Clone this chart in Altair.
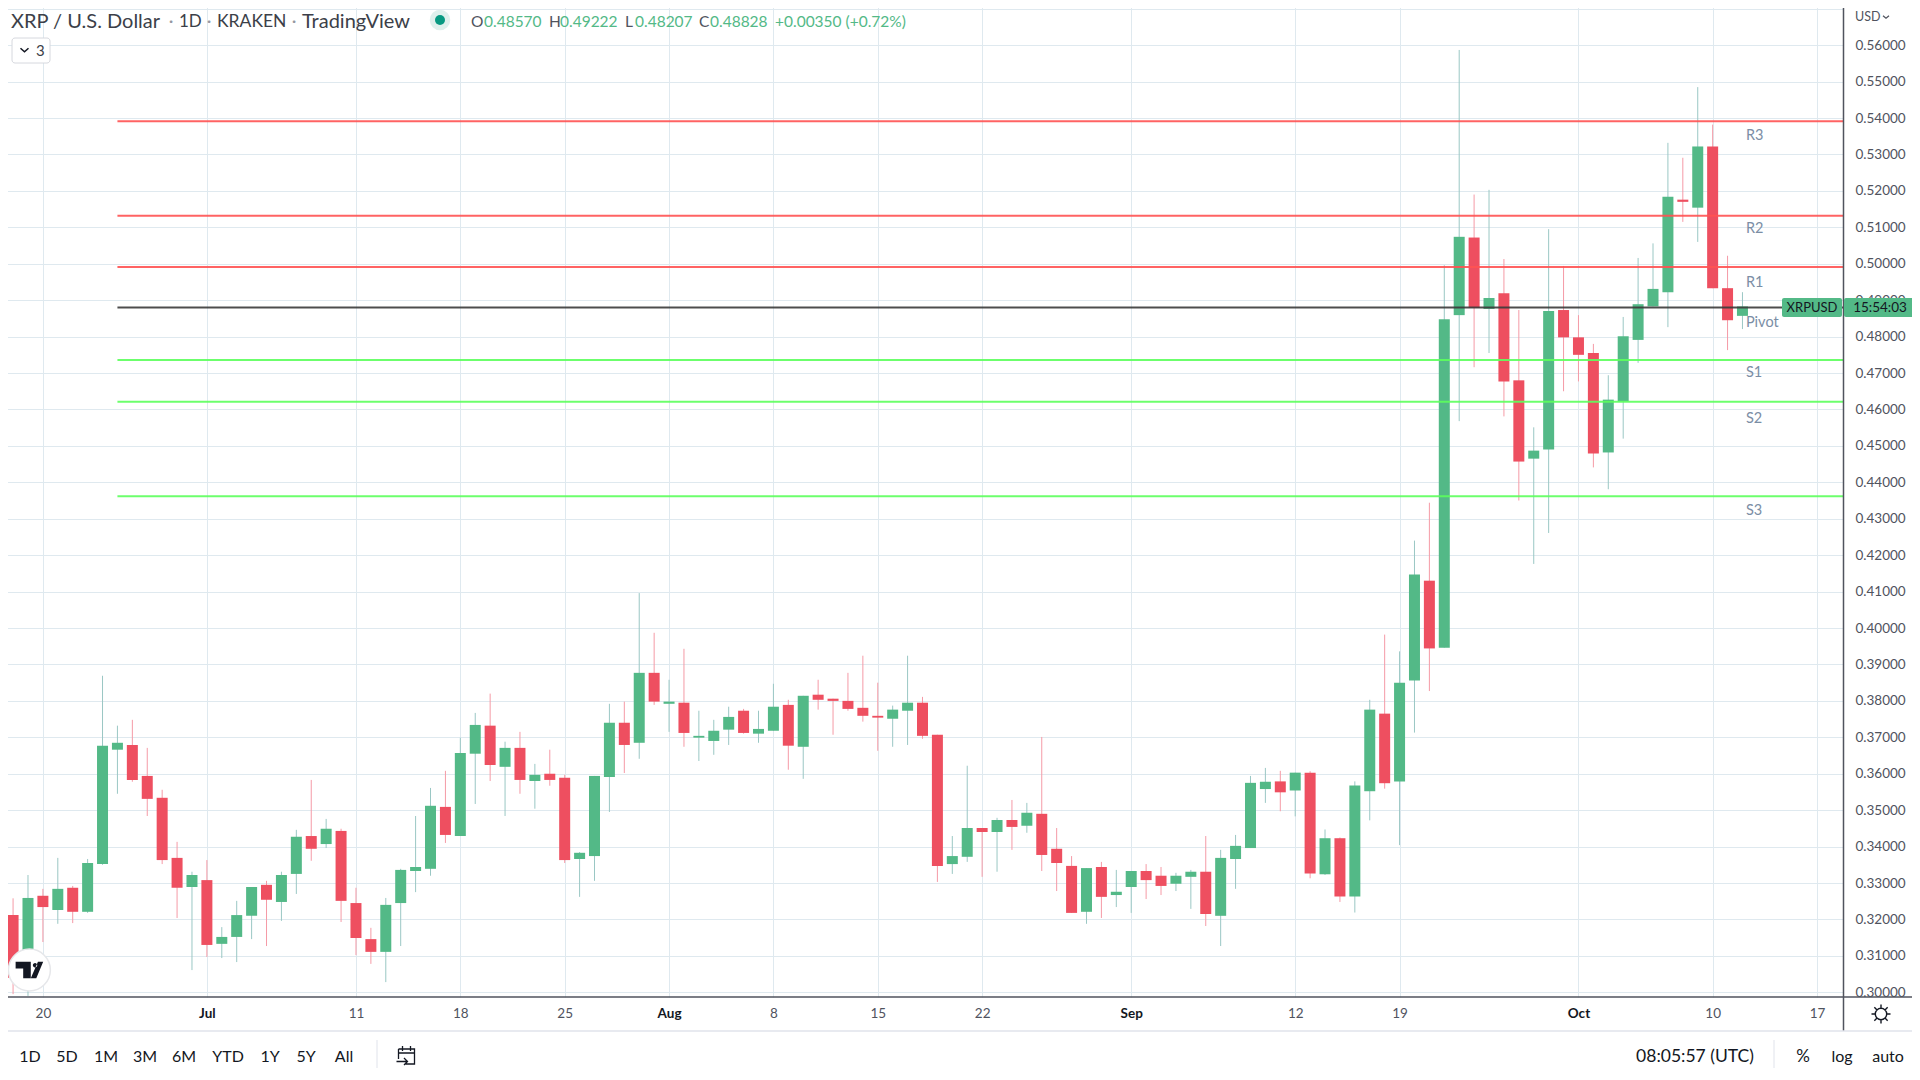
import altair as alt
import pandas as pd

FONT = "Lato"
UP, DOWN = "#53b987", "#ee4f60"
UP_WICK, DOWN_WICK = "#9ac7c4", "#f59aa6"
GRID = "#dfe9ef"
TEXT = "#131722"
AXIS_TEXT = "#50535e"
LABEL = "#7b8ea5"

opens = [.3111, .3212, .3040, .3265, .3226, .3287, .3221, .3352, .3666, .3679, .3594, .3534, .3369, .3289,
         .3308, .3133, .3152, .3210, .3295, .3248, .3325, .3429, .3407, .3443, .3245, .3146, .3111, .3245, .3333,
         .3339, .3509, .3429, .3655, .3732, .3619, .3671, .3580, .3600, .3589, .3366, .3374, .3591, .3740, .3685, .3877,
         .3792, .3795, .3699, .3690, .3721, .3773, .3710, .3718, .3789, .3674, .3817, .3806, .3800, .3781, .3759,
         .3751, .3773, .3795, .3707, .3352, .3372, .3451, .3440, .3473, .3457, .3490, .3394, .3347, .3221, .3344, .3267,
         .3289, .3333, .3320, .3298, .3317, .3331, .3210, .3366, .3396, .3558, .3579, .3554, .3603, .3324, .3423,
         .3263, .3552, .3765, .3579, .3856, .4130, .3946, .4859, .5072, .4876, .4919, .4680, .4465, .4490, .4873,
         .4798, .4755, .4482, .4622, .4791, .4883, .4922, .5176, .5154, .5322, .4933, .4857]
highs = [.3230, .3258, .3322, .3284, .3369, .3292, .3366, .3869, .3732, .3748, .3671, .3556, .3413, .3331,
         .3363, .3179, .3251, .3289, .3306, .3331, .3446, .3583, .3476, .3449, .3287, .3177, .3259, .3339, .3484,
         .3561, .3608, .3699, .3767, .3820, .3688, .3715, .3627, .3666, .3597, .3385, .3594, .3792, .3798, .4096, .3987,
         .3858, .3943, .3773, .3748, .3784, .3778, .3773, .3847, .3803, .3814, .3858, .3806, .3877, .3924, .3850,
         .3787, .3924, .3811, .3707, .3429, .3622, .3451, .3479, .3528, .3520, .3701, .3451, .3374, .3341, .3358, .3336,
         .3333, .3352, .3344, .3328, .3336, .3429, .3391, .3432, .3594, .3616, .3608, .3603, .3607, .3447, .3425,
         .3579, .3803, .3982, .3936, .4240, .4344, .4996, .5587, .5190, .5203, .5013, .4873, .4551, .5095, .4994,
         .4859, .4780, .4694, .4854, .5016, .5056, .5332, .5291, .5485, .5382, .5022, .4922]
lows = [.3090, .2995, .2990, .3138, .3188, .3190, .3218, .3350, .3545, .3578, .3484, .3352, .3204, .3061,
        .3097, .3094, .3083, .3146, .3127, .3196, .3270, .3361, .3396, .3193, .3102, .3078, .3028, .3127, .3275,
        .3320, .3410, .3429, .3517, .3580, .3484, .3545, .3504, .3567, .3355, .3262, .3306, .3495, .3602, .3641, .3789,
        .3715, .3674, .3635, .3652, .3679, .3710, .3685, .3718, .3611, .3586, .3776, .3707, .3773, .3743, .3663,
        .3674, .3679, .3696, .3303, .3325, .3358, .3317, .3331, .3391, .3438, .3333, .3278, .3218, .3188, .3204, .3234,
        .3218, .3256, .3267, .3278, .3229, .3182, .3127, .3284, .3396, .3520, .3497, .3483, .3313, .3322, .3248,
        .3219, .3472, .3559, .3404, .3713, .3827, .3946, .4568, .4716, .4755, .4581, .4350, .4176, .4261, .4650,
        .4677, .4441, .4381, .4520, .4728, .4883, .4826, .5115, .5060, .4933, .4763, .48207]
closes = [.3212, .3040, .3259, .3234, .3284, .3221, .3355, .3677, .3685, .3583, .3531, .3363, .3287, .3322,
          .3130, .3152, .3212, .3289, .3254, .3322, .3427, .3394, .3449, .3251, .3149, .3111, .3240, .3336, .3344,
          .3512, .3432, .3657, .3734, .3624, .3671, .3583, .3597, .3583, .3363, .3383, .3594, .3740, .3679, .3877, .3798,
          .3798, .3712, .3704, .3718, .3756, .3712, .3723, .3784, .3677, .3814, .3803, .3800, .3778, .3759, .3754,
          .3776, .3795, .3704, .3347, .3374, .3451, .3440, .3473, .3454, .3493, .3377, .3355, .3218, .3341, .3262, .3276,
          .3333, .3308, .3292, .3320, .3331, .3215, .3369, .3402, .3575, .3578, .3549, .3603, .3326, .3423, .3263,
          .3568, .3776, .3574, .3850, .4147, .3944, .4848, .5074, .4879, .4906, .4677, .4457, .4487, .4870, .4798,
          .4750, .4479, .4627, .4801, .4889, .4931, .5184, .5170, .5322, .4933, .4845, .48828]

level_names = ["R3", "R2", "R1", "Pivot", "S1", "S2", "S3"]
level_values = [.5391, .5132, .4991, .4880, .4736, .4621, .4362]
level_colors = ["#ff5252", "#ff5252", "#ff5252", "#3a3a3a", "#5cff5c", "#5cff5c", "#5cff5c"]
level_label_values = [.5354, .5099, .4951, .4840, .4702, .4577, .4325]

price_ticks = [round(.30 + i * .01, 2) for i in range(28)]
date_ticks = ["2022-06-20", "2022-07-01", "2022-07-11", "2022-07-18", "2022-07-25", "2022-08-01", "2022-08-08",
              "2022-08-15", "2022-08-22", "2022-09-01", "2022-09-12", "2022-09-19", "2022-10-01", "2022-10-10",
              "2022-10-17"]


def ms(s):
    return int(pd.Timestamp(s, tz="UTC").timestamp() * 1000)


df = pd.DataFrame({"open": opens, "high": highs, "low": lows, "close": closes})
df["date"] = pd.date_range("2022-06-17", periods=len(df), freq="D").strftime("%Y-%m-%dT00:00:00Z")
df["dir"] = ["up" if c >= o else "down" for o, c in zip(df.open, df.close)]

W, H = 1843, 997
x_scale = alt.Scale(type="utc", domain=[ms("2022-06-17T02:57:00"), ms("2022-10-18T17:51:00")], nice=False, padding=0)
y_scale = alt.Scale(domain=[.29871, .57241], nice=False, zero=False)

x_axis = alt.Axis(
    values=[ms(d) for d in date_ticks], grid=True, gridColor=GRID, gridWidth=1, domain=False, ticks=False,
    labelPadding=9, labelFontSize=13.5, labelFont=FONT, labelOverlap=False, labelFlush=False,
    labelExpr="utcdate(datum.value)==1 ? utcFormat(datum.value,'%b') : utcFormat(datum.value,'%-d')",
    labelColor={"condition": {"test": "utcdate(datum.value)==1", "value": TEXT}, "value": AXIS_TEXT},
    labelFontWeight={"condition": {"test": "utcdate(datum.value)==1", "value": "bold"}, "value": "normal"},
)
y_axis = alt.Axis(
    orient="right", values=price_ticks, grid=True, gridColor=GRID, gridWidth=1, domain=False, ticks=False,
    labelPadding=12, labelFontSize=13.5, labelFont=FONT, labelColor=AXIS_TEXT, labelOverlap=False,
    labelExpr="datum.value>0.565 ? '' : format(datum.value,'.5f')",
)


def X(field):
    return alt.X(field, scale=x_scale, axis=x_axis, title=None)


def Y(field):
    return alt.Y(field, scale=y_scale, axis=y_axis, title=None)


wicks = alt.Chart(df).mark_rule(strokeWidth=1).transform_calculate(
    wick=f"datum.dir=='up' ? '{UP_WICK}' : '{DOWN_WICK}'"
).encode(x=X("date:T"), y=Y("high:Q"), y2="low:Q", color=alt.Color("wick:N", legend=None, scale=None))
bodies = alt.Chart(df).mark_bar(size=11).transform_calculate(
    top="max(datum.open,datum.close)", bot="min(datum.open,datum.close)",
    body=f"datum.dir=='up' ? '{UP}' : '{DOWN}'"
).encode(x=X("date:T"), y=Y("top:Q"), y2="bot:Q", color=alt.Color("body:N", legend=None, scale=None))

levels = pd.DataFrame({"name": level_names, "value": level_values, "c": level_colors, "lab": level_label_values})
levels["start"] = "2022-06-25T00:00:00Z"
levels["end"] = "2022-10-18T17:51:00Z"
levels["at"] = "2022-10-12T00:00:00Z"
lines = alt.Chart(levels).mark_rule(strokeWidth=2, opacity=0.9).encode(
    x=X("start:T"), x2="end:T", y=Y("value:Q"), color=alt.Color("c:N", legend=None, scale=None))
level_text = alt.Chart(levels).mark_text(align="left", dx=3.5, dy=1, font=FONT, fontSize=14.5, color=LABEL).encode(
    x=X("at:T"), y=Y("lab:Q"), text="name:N")

one = pd.DataFrame({"a": [0]})


def txt(s, px, py, color=TEXT, size=15, align="left", weight="normal", font=FONT):
    return alt.Chart(one).mark_text(text=s, align=align, baseline="middle", color=color, fontSize=size,
                                    fontWeight=weight, font=font).encode(x=alt.value(px), y=alt.value(py))


def box(x0, x1, y0, y1, fill, **kw):
    return alt.Chart(one).mark_rect(color=fill, **kw).encode(x=alt.value(x0), x2=alt.value(x1), y=alt.value(y0),
                                                             y2=alt.value(y1))


def rule(x0, x1, y0, y1, color, w=1):
    return alt.Chart(one).mark_rule(color=color, strokeWidth=w).encode(x=alt.value(x0), x2=alt.value(x1),
                                                                       y=alt.value(y0), y2=alt.value(y1))


def icon(path, px, py, size, color=TEXT, filled=False, w=1.3):
    return alt.Chart(one).mark_point(shape=path, size=size, filled=filled, color=color, opacity=1,
                                     strokeWidth=w).encode(x=alt.value(px), y=alt.value(py))


HEAD = "#3c3f49"
chrome = [
    # axes frame
    rule(0, 1920, 997, 997, AXIS_TEXT, 1.5),
    rule(1843.5, 1843.5, 0, 1031, AXIS_TEXT, 1.5),
    rule(0, 1920, 1031, 1031, "#e0e3eb", 1.5),
    # level tag
    box(1782, 1842, 298, 317, UP, cornerRadius=2),
    box(1844, 1916, 298, 317, UP, cornerRadius=2),
    txt("XRPUSD", 1812, 308, TEXT, 13, "center"),
    txt("15:54:03", 1880, 308, TEXT, 13.5, "center"),
    txt("USD", 1855, 17, AXIS_TEXT, 12.5),
    icon("M-1,-.4 L0,.4 L1,-.4", 1886, 17, 36, AXIS_TEXT),
    # header
    txt("XRP / U.S. Dollar", 11, 22, HEAD, 20),
    txt("·", 171, 22, "#9598a1", 18, "center"),
    txt("1D", 179, 22, HEAD, 17),
    txt("·", 209, 22, "#9598a1", 18, "center"),
    txt("KRAKEN", 217, 22, HEAD, 17.5),
    txt("·", 294, 22, "#9598a1", 18, "center"),
    txt("TradingView", 302, 22, HEAD, 20),
    alt.Chart(one).mark_point(shape="circle", size=420, filled=True, color="#dff0ec", opacity=1).encode(
        x=alt.value(440), y=alt.value(20)),
    alt.Chart(one).mark_point(shape="circle", size=100, filled=True, color="#089981", opacity=1).encode(
        x=alt.value(440), y=alt.value(20)),
    txt("O", 471, 22, AXIS_TEXT, 15.5), txt("0.48570", 484, 22, UP, 15.5),
    txt("H", 549, 22, AXIS_TEXT, 15.5), txt("0.49222", 560, 22, UP, 15.5),
    txt("L", 625, 22, AXIS_TEXT, 15.5), txt("0.48207", 635, 22, UP, 15.5),
    txt("C", 699, 22, AXIS_TEXT, 15.5), txt("0.48828", 710, 22, UP, 15.5),
    txt("+0.00350 (+0.72%)", 775, 22, UP, 15.5),
    # collapse box
    box(12, 50, 38, 63, "#ffffff", cornerRadius=3, stroke="#d6d8de", strokeWidth=1),
    icon("M-1,-.45 L0,.45 L1,-.45", 24.5, 50, 64, TEXT, w=1.5),
    txt("3", 36, 51, HEAD, 15),
    # logo
    alt.Chart(one).mark_point(shape="circle", size=1760, filled=True, color="#ffffff", stroke="#e6e7ea",
                              strokeWidth=1.5, opacity=1).encode(x=alt.value(29.4), y=alt.value(970)),
    icon("M-1,-.6 H.1 V.6 H-.45 V-.1 H-1 Z M.25,-.35 a.16,.16 0 1,0 .32,0 a.16,.16 0 1,0 -.32,0 Z M.62,-.6 H1 L.5,.6 H.1 Z",
         29.4, 970, 760, TEXT, True, 0),
    # gear
    icon("M.6,0 A.6,.6 0 1,1 -.6,0 A.6,.6 0 1,1 .6,0 M0,-1 V-.6 M0,.6 V1 M-1,0 H-.6 M.6,0 H1 M-.7,-.7 L-.42,-.42 M.42,.42 L.7,.7 M-.7,.7 L-.42,.42 M.42,-.42 L.7,-.7",
         1881, 1014, 361, TEXT, False, 1.4),
    # bottom toolbar
    rule(377, 377, 1040, 1068, "#e0e3eb"),
    icon("M-.8,-.7 H.8 V.8 H-.1 M-.8,-.7 V.3 M-.8,-.3 H.8 M-.4,-1 V-.5 M.4,-1 V-.5 M-1,.55 H.1 M-.25,.2 L.1,.55 L-.25,.9",
         406.5, 1056, 400, TEXT, False, 1.3),
    rule(1774, 1774, 1040, 1068, "#e0e3eb"),
    txt("08:05:57 (UTC)", 1695, 1057, TEXT, 17.5, "center"),
    txt("%", 1803, 1057, TEXT, 17, "center"),
    txt("log", 1842, 1057, TEXT, 16, "center"),
    txt("auto", 1888, 1057, TEXT, 16, "center"),
]
for label, cx in [("1D", 30), ("5D", 67), ("1M", 106), ("3M", 145), ("6M", 184), ("YTD", 228), ("1Y", 270),
                  ("5Y", 306), ("All", 344)]:
    chrome.append(txt(label, cx, 1057, TEXT, 16, "center"))

chart = alt.layer(wicks, bodies, lines, level_text, *chrome).properties(
    width=W, height=H, background="white",
    autosize=alt.AutoSizeParams(type="none"),
    padding={"left": -8, "top": -8, "right": 69, "bottom": 71},
).configure_view(stroke=None)

chart.save("out.html", embed_options={"renderer": "svg", "actions": False})
